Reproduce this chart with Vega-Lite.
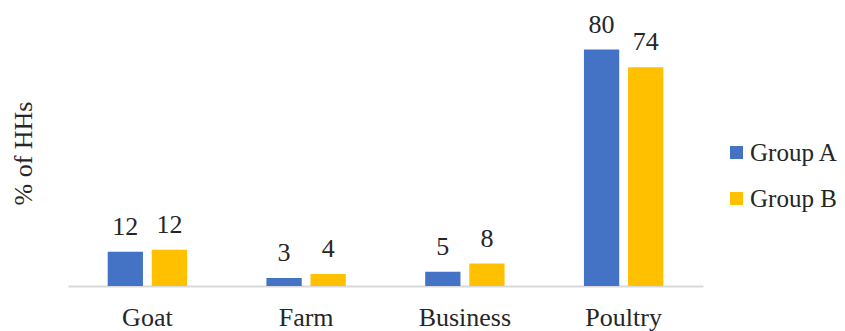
{
  "$schema": "https://vega.github.io/schema/vega-lite/v6.json",
  "width": 635,
  "height": 266,
  "autosize": {"type": "none"},
  "padding": {"left": 68, "top": 20, "right": 142, "bottom": 45},
  "background": "white",
  "config": {
    "view": {"stroke": null},
    "font": "Liberation Serif",
    "text": {"font": "Liberation Serif"}
  },
  "data": {
    "values": [
      {"category": "Goat", "group": "Group A", "value": 11.6},
      {"category": "Goat", "group": "Group B", "value": 12.3},
      {"category": "Farm", "group": "Group A", "value": 2.7},
      {"category": "Farm", "group": "Group B", "value": 4.1},
      {"category": "Business", "group": "Group A", "value": 4.8},
      {"category": "Business", "group": "Group B", "value": 7.6},
      {"category": "Poultry", "group": "Group A", "value": 80},
      {"category": "Poultry", "group": "Group B", "value": 74}
    ]
  },
  "encoding": {
    "x": {
      "field": "category",
      "type": "nominal",
      "sort": ["Goat", "Farm", "Business", "Poultry"],
      "scale": {"paddingInner": 0.5, "paddingOuter": 0.25},
      "axis": {
        "title": null,
        "labelAngle": 0,
        "labelFont": "Liberation Serif",
        "labelFontSize": 26,
        "labelColor": "#262626",
        "labelPadding": 18,
        "ticks": false,
        "domainColor": "#d9d9d9",
        "domainWidth": 2,
        "grid": false
      }
    },
    "xOffset": {
      "field": "group",
      "type": "nominal",
      "scale": {"paddingInner": 0.2}
    },
    "y": {
      "field": "value",
      "type": "quantitative",
      "scale": {"domain": [0, 90], "nice": false},
      "axis": {
        "title": "% of HHs",
        "labels": false,
        "ticks": false,
        "domain": false,
        "grid": false,
        "titleFont": "Liberation Serif",
        "titleFontSize": 26,
        "titleFontWeight": "normal",
        "titleColor": "#262626",
        "titleAngle": 270,
        "titleX": -45,
        "titleY": 133,
        "titleAlign": "center",
        "titleBaseline": "middle"
      }
    }
  },
  "layer": [
    {
      "mark": {"type": "bar"},
      "encoding": {
        "color": {
          "field": "group",
          "type": "nominal",
          "scale": {"domain": ["Group A", "Group B"], "range": ["#4472C4", "#FFC000"]},
          "legend": {
            "title": null,
            "orient": "none",
            "legendX": 656,
            "legendY": 120,
            "symbolType": "square",
            "symbolSize": 169,
            "symbolStrokeWidth": 0,
            "labelFont": "Liberation Serif",
            "labelFontSize": 25,
            "labelColor": "#262626",
            "rowPadding": 20,
            "labelOffset": 1
          }
        }
      }
    },
    {
      "mark": {"type": "text", "baseline": "alphabetic", "dy": -17, "fontSize": 26, "color": "#262626", "font": "Liberation Serif"},
      "encoding": {
        "text": {"field": "value", "type": "quantitative", "format": ".0f"}
      }
    }
  ]
}
